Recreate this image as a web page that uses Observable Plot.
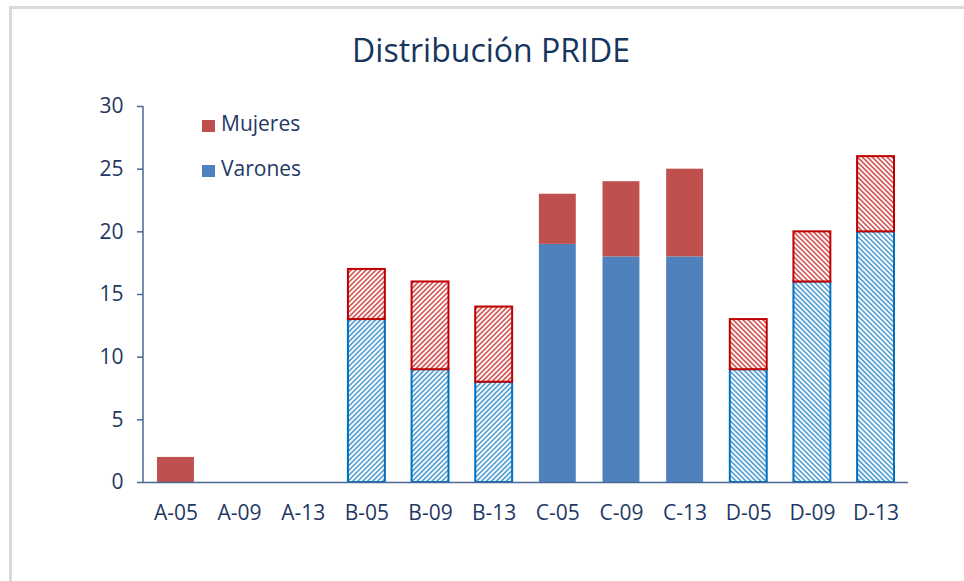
<!DOCTYPE html>
<html>
<head>
<meta charset="utf-8">
<script src="https://cdn.jsdelivr.net/npm/d3@7"></script>
<script src="https://cdn.jsdelivr.net/npm/@observablehq/plot@0.6"></script>
<style>
  html, body { margin: 0; padding: 0; background: #fff; }
  #wrap { position: relative; width: 964px; height: 581px; overflow: hidden; font-family: "Open Sans", sans-serif; color: #1F3864; }
  #border { position: absolute; left: 9px; top: 6px; width: 2000px; height: 2000px; border-left: 3px solid #dadada; border-top: 3px solid #dadada; }
  #chart { position: absolute; left: 0; top: 0; }
  #title { position: absolute; left: 291px; width: 400px; top: 34px; text-align: center; font-size: 32px; line-height: 31px; white-space: nowrap; color: #17365D; }
  .leg { position: absolute; left: 202px; font-size: 21px; line-height: 21px; white-space: nowrap; }
  .leg span.sw { position: absolute; left: 0; width: 13px; height: 12px; }
  .leg span.tx { position: absolute; left: 19px; top: 0; }
</style>
</head>
<body>
<div id="wrap">
  <div id="border"></div>
  <div id="chart"></div>
  <div id="title">Distribución PRIDE</div>
  <div class="leg" style="top:113px"><span class="sw" style="top:7px;background:#C0504D"></span><span class="tx">Mujeres</span></div>
  <div class="leg" style="top:158px"><span class="sw" style="top:7px;background:#4F81BD"></span><span class="tx">Varones</span></div>
</div>
<script>
// ---- data ----
const categories = ["A-05","A-09","A-13","B-05","B-09","B-13","C-05","C-09","C-13","D-05","D-09","D-13"];
const varones = [0, 0, 0, 13, 9, 8, 19, 18, 18, 9, 16, 20];
const mujeres = [2, 0, 0, 4, 7, 6, 4, 6, 7, 4, 4, 6];
const estilo  = ["solido","solido","solido","rayaA","rayaA","rayaA","solido","solido","solido","rayaB","rayaB","rayaB"];
const series = ["Varones", "Mujeres"];
const yTicks = [0, 5, 10, 15, 20, 25, 30];

const solidColor = {Varones: "#4F81BD", Mujeres: "#C0504D"};
const lineColor = {Varones: "#0070C0", Mujeres: "#C00000"};
const axisColor = "#4A6896";
const textColor = "#1F3864";

const rows = categories.flatMap((c, i) => [
  {cat: c, serie: "Varones", valor: varones[i], estilo: estilo[i]},
  {cat: c, serie: "Mujeres", valor: mujeres[i], estilo: estilo[i]}
]).filter(d => d.valor > 0);

const fillFor = d => d.estilo === "solido" ? solidColor[d.serie] : `url(#h-${d.estilo}-${d.serie})`;
const strokeFor = d => d.estilo === "solido" ? "none" : lineColor[d.serie];

// hatch pattern definitions
const defsMark = () => {
  const g = d3.create("svg:g");
  const defs = g.append("defs");
  for (const est of ["rayaA", "rayaB"]) {
    for (const s of series) {
      const p = defs.append("pattern")
        .attr("id", `h-${est}-${s}`)
        .attr("patternUnits", "userSpaceOnUse")
        .attr("width", 3.5).attr("height", 3.5)
        .attr("patternTransform", est === "rayaA" ? "rotate(45)" : "rotate(-45)");
      p.append("rect").attr("width", 3.5).attr("height", 3.5).attr("fill", "#fff");
      p.append("line").attr("x1", 1.75).attr("x2", 1.75).attr("y1", 0).attr("y2", 3.5)
        .attr("stroke", lineColor[s]).attr("stroke-width", 1.3).attr("stroke-opacity", 0.85);
    }
  }
  return g.node();
};

// vertical y-axis line drawn from the scales
const yAxisLine = (index, scales, values, dims) => {
  const g = d3.create("svg:g");
  g.append("line")
    .attr("x1", dims.marginLeft).attr("x2", dims.marginLeft)
    .attr("y1", scales.y(0)).attr("y2", scales.y(30))
    .attr("stroke", axisColor).attr("stroke-width", 1.5);
  return g.node();
};

const chart = Plot.plot({
  width: 964,
  height: 581,
  marginLeft: 143,
  marginRight: 56,
  marginTop: 106,
  marginBottom: 99,
  style: {fontFamily: "'Open Sans', sans-serif", fontSize: "21px", color: textColor, background: "transparent"},
  x: {type: "band", domain: categories, paddingInner: 0.42, paddingOuter: 0.22, round: false, label: null},
  y: {domain: [0, 30], label: null},
  color: {type: "identity"},
  marks: [
    defsMark,
    Plot.barY(rows, {
      x: "cat", y: "valor", z: "serie", order: series,
      fill: fillFor, stroke: strokeFor, strokeWidth: 2
    }),
    Plot.axisY(yTicks, {tickSize: 6, tickPadding: 14, stroke: axisColor, strokeWidth: 1.5, fill: textColor, label: null, fontSize: 21}),
    Plot.axisX({tickSize: 0, tickPadding: 23, fill: textColor, label: null, fontSize: 21}),
    Plot.ruleY([0], {stroke: axisColor, strokeWidth: 1.5}),
    yAxisLine
  ]
});
document.getElementById("chart").appendChild(chart);
</script>
</body>
</html>
